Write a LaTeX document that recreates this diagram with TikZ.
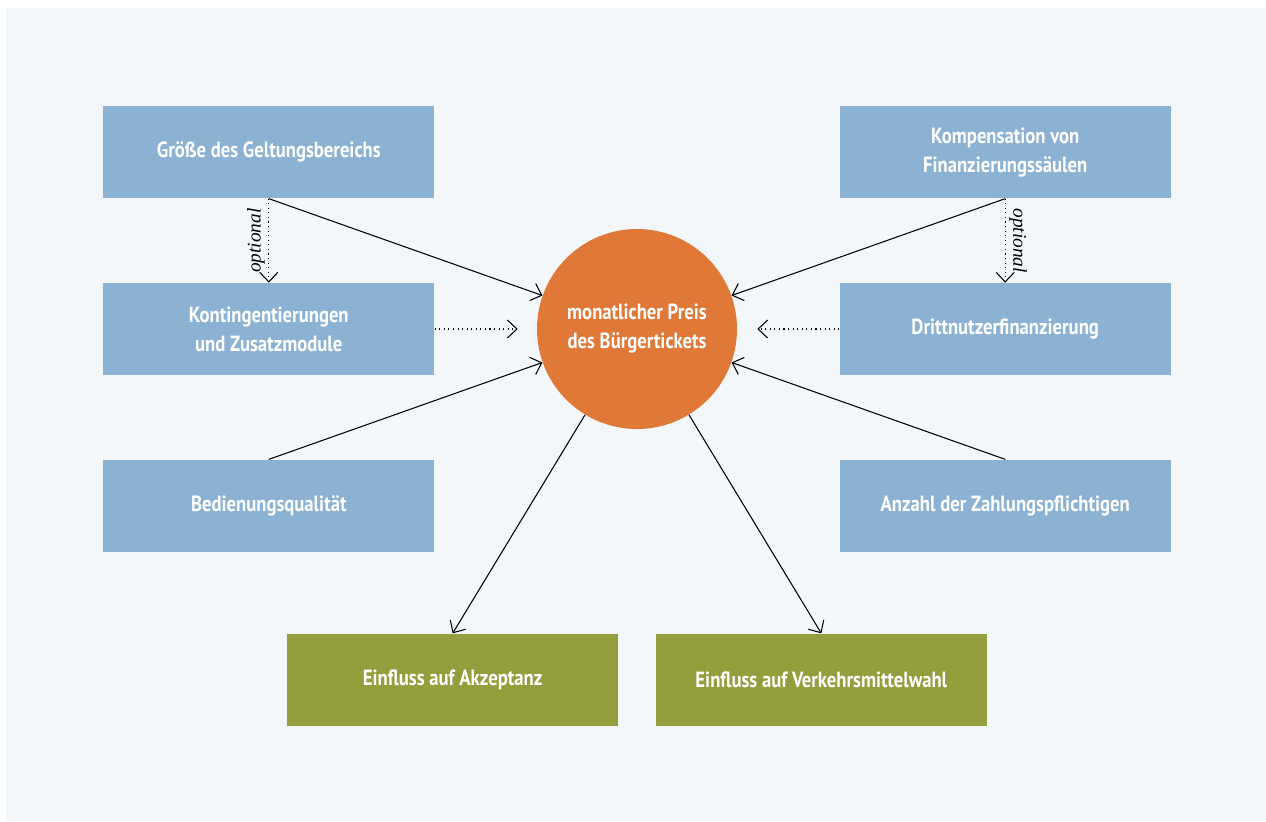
\documentclass[tikz,border=0pt]{standalone}
\usepackage{fontspec}
\setmainfont{PT Sans}[FakeStretch=0.85]
\newfontfamily\optfont{Liberation Serif}
\usetikzlibrary{arrows.meta,positioning}
\definecolor{boxblue}{RGB}{139,178,211}
\definecolor{priceorange}{RGB}{224,120,56}
\definecolor{effectgreen}{RGB}{148,158,60}
\definecolor{panelgrey}{RGB}{243,247,250}

\begin{document}
\begin{tikzpicture}[
      node distance=1.68cm and 2.04cm,
      factor/.style={fill=boxblue,text=white,align=center,minimum width=6.62cm,minimum height=1.84cm,font=\bfseries\fontsize{12.5}{16.5}\selectfont},
      effect/.style={factor,fill=effectgreen},
      price/.style={circle,fill=priceorange,text=white,align=center,minimum size=4cm,inner sep=0pt,font=\bfseries\fontsize{12.5}{16.5}\selectfont},
      arrow/.style={-{Straight Barb[length=1.9mm,width=3.6mm]},line width=0.6pt},
      optarrow/.style={arrow,dotted},
      optlabel/.style={font=\optfont\itshape\fontsize{11}{13}\selectfont,inner sep=2pt}
    ]
      \useasboundingbox (0,0) rectangle (25.32,-16.42);
      \fill[white] (0,0) rectangle (25.32,-16.42);
      \fill[panelgrey] (0.12,-0.16) rectangle (25.32,-16.42);
      \node[price] (preis) at (12.74,-6.58) {monatlicher Preis\\des Bürgertickets};
      \node[factor,left=of preis] (kontingent) {Kontingentierungen\\und Zusatzmodule};
      \node[factor,above=of kontingent] (geltung) {Größe des Geltungsbereichs};
      \node[factor,below=of kontingent] (qualitaet) {Bedienungsqualität};
      \node[factor,right=of preis] (dritt) {Drittnutzerfinanzierung};
      \node[factor,above=of dritt] (kompensation) {Kompensation von\\Finanzierungssäulen};
      \node[factor,below=of dritt] (zahler) {Anzahl der Zahlungspflichtigen};
      \node[effect,below left=4.08cm and 0.37cm of preis.south] (akzeptanz) {Einfluss auf Akzeptanz};
      \node[effect,below right=4.08cm and 0.37cm of preis.south] (wahl) {Einfluss auf Verkehrsmittelwahl};
      \draw[arrow] (geltung.south) -- (preis);
      \draw[arrow] (qualitaet.north) -- (preis);
      \draw[arrow] (kompensation.south) -- (preis);
      \draw[arrow] (zahler.north) -- (preis);
      \draw[optarrow,shorten >=0.38cm] (kontingent) -- (preis);
      \draw[optarrow,shorten >=0.4cm] (dritt) -- (preis);
      \draw[optarrow] (geltung.south) -- node[midway,rotate=90,anchor=south,optlabel]{optional} (kontingent.north);
      \draw[optarrow] (kompensation.south) -- node[midway,rotate=-90,anchor=south,optlabel]{optional} (dritt.north);
      \draw[arrow] (preis) -- (akzeptanz.north);
      \draw[arrow] (preis) -- (wahl.north);
    \end{tikzpicture}
\end{document}
